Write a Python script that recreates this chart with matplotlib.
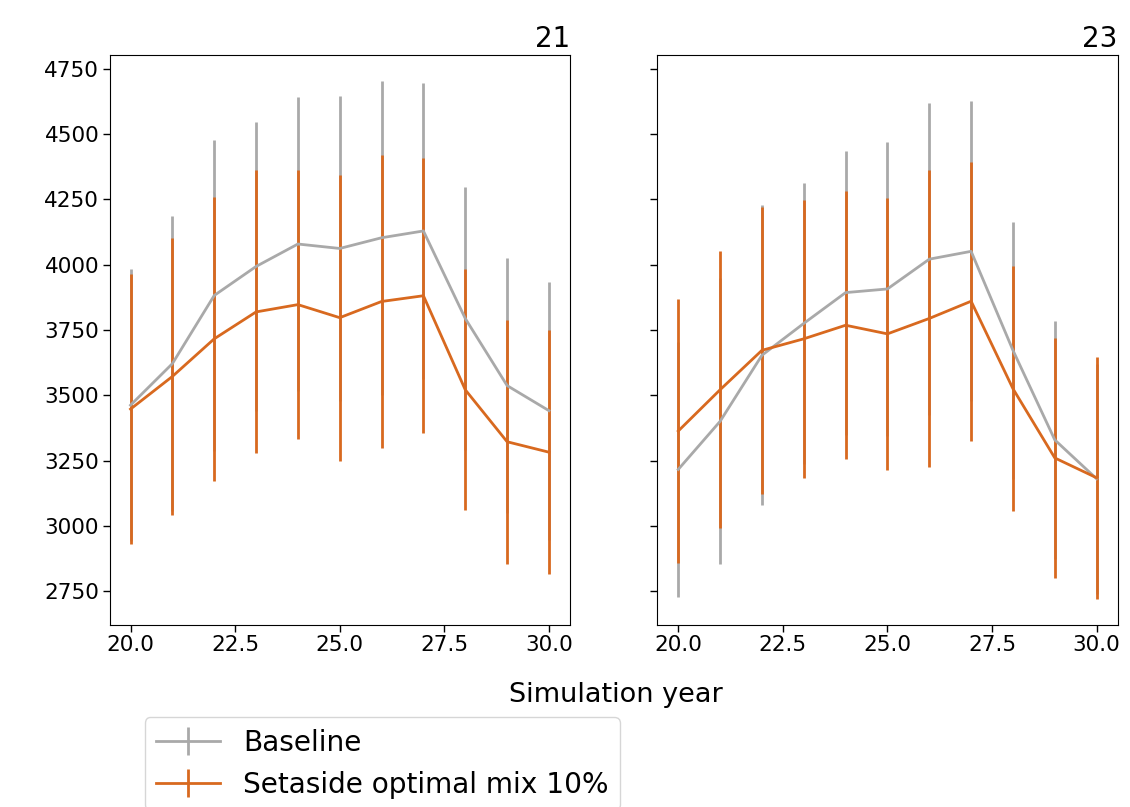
import numpy as np
import matplotlib
matplotlib.use("Agg")
import matplotlib.pyplot as plt
from matplotlib.ticker import MultipleLocator

years = [20, 21, 22, 23, 24, 25, 26, 27, 28, 29, 30]

# panel 21
base_21 = [3462, 3621, 3882, 3993, 4079, 4062, 4103, 4129, 3794, 3537, 3441]
base_21_err = [520, 566, 594, 553, 562, 585, 601, 566, 502, 487, 494]
seta_21 = [3447, 3572, 3716, 3819, 3847, 3797, 3859, 3881, 3521, 3322, 3282]
seta_21_err = [516, 530, 543, 542, 515, 547, 561, 526, 461, 467, 467]

# panel 23
base_23 = [3216, 3400, 3653, 3775, 3893, 3907, 4021, 4051, 3672, 3329, 3180]
base_23_err = [488, 547, 574, 537, 544, 562, 597, 574, 493, 456, 440]
seta_23 = [3363, 3521, 3672, 3716, 3768, 3735, 3794, 3860, 3525, 3260, 3184]
seta_23_err = [507, 530, 549, 533, 513, 522, 567, 534, 469, 461, 463]

panel_titles = ["21", "23"]
series_labels = ["Baseline", "Setaside optimal mix 10%"]

grey = "#a9a9a9"
orange = "#d8691f"

fig, axes = plt.subplots(1, 2, sharey=True, figsize=(11.3, 8.07), dpi=100)
fig.subplots_adjust(left=0.097, right=0.989, bottom=0.226, top=0.932, wspace=0.19)

datos = [(base_21, base_21_err, seta_21, seta_21_err),
         (base_23, base_23_err, seta_23, seta_23_err)]

for ax, titulo, (b, be, s, se) in zip(axes, panel_titles, datos):
    ax.errorbar(years, b, yerr=be, color=grey, linewidth=2, elinewidth=2, label=series_labels[0])
    ax.errorbar(years, s, yerr=se, color=orange, linewidth=2, elinewidth=2, label=series_labels[1])
    ax.set_title(titulo, loc="right", fontsize=20)
    ax.xaxis.set_major_locator(MultipleLocator(2.5))
    ax.tick_params(labelsize=15.5, length=5, width=1, pad=2.5)

fig.text(0.545, 0.139, "Simulation year", ha="center", va="center", fontsize=19.5)

handles, labels = axes[0].get_legend_handles_labels()
fig.legend(handles, labels, loc="upper left", bbox_to_anchor=(0.128, 0.111), fontsize=20.2,
           handlelength=2.3, borderaxespad=0)

plt.savefig("out.png", dpi=100)
